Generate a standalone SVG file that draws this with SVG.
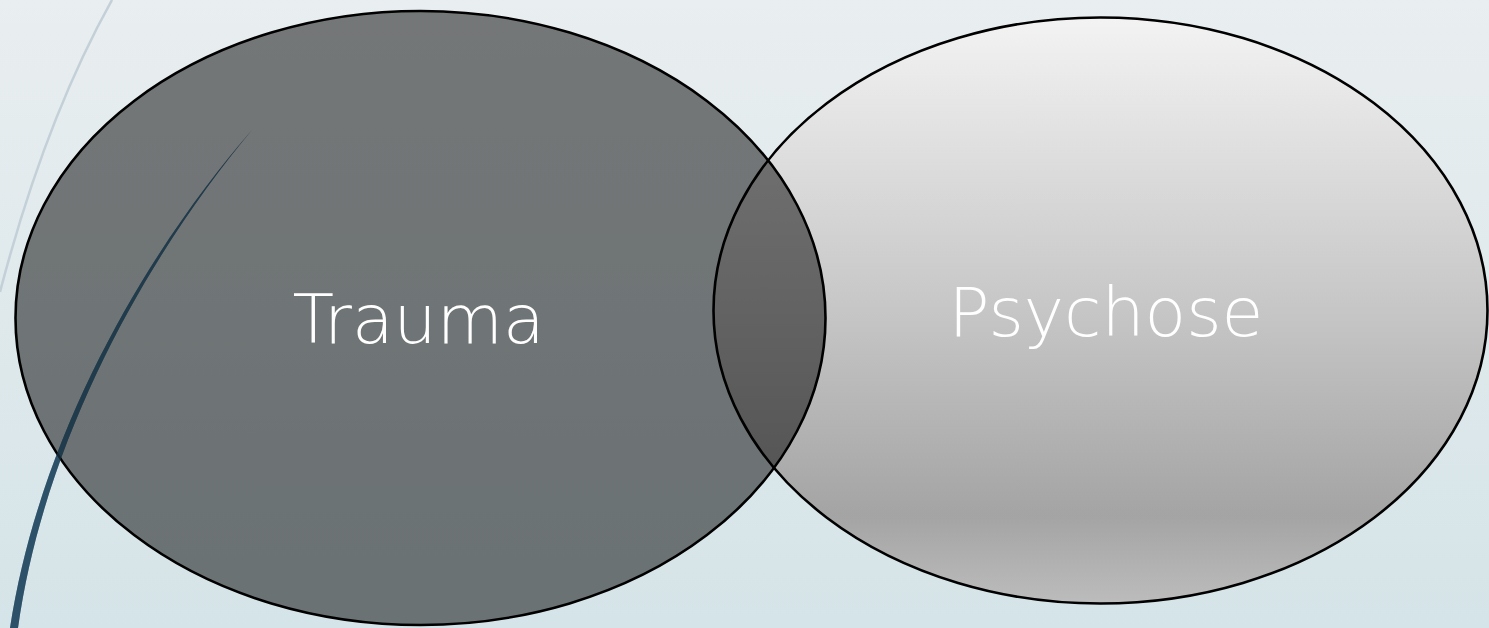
<svg xmlns="http://www.w3.org/2000/svg" width="1489" height="628" viewBox="0 0 1489 628">
<defs>
<linearGradient id="bg" x1="0" y1="0" x2="0" y2="1">
<stop offset="0" stop-color="#e9eef0"/>
<stop offset="1" stop-color="#d5e4e8"/>
</linearGradient>
<linearGradient id="gR" x1="0" y1="0" x2="0" y2="1">
<stop offset="0" stop-color="#f3f3f3"/>
<stop offset="0.5" stop-color="#c6c6c6"/>
<stop offset="0.85" stop-color="#a4a4a4"/>
<stop offset="1" stop-color="#bcbcbc"/>
</linearGradient>
<path id="wisp" d="M252,130 C160,235 42,420 10,628 L18,628 C47,421 163,236 252,130 Z"/>
<style>
.ell{stroke:#000;stroke-width:2.6}
.lbl{font-family:"DejaVu Sans","Liberation Sans",sans-serif;font-weight:200;font-size:68px;fill:#fff;text-anchor:middle}
</style>
</defs>
<rect width="1489" height="628" fill="url(#bg)"/>
<g id="decor-back">
<path d="M112,0 Q45,120 0,292" fill="none" stroke="#c3d0d7" stroke-width="2.5"/>
<use href="#wisp" fill="#2c5168"/>
</g>
<g id="node-psychose">
<ellipse class="ell" cx="1100.5" cy="310.5" rx="387" ry="293" fill="url(#gR)"/>
<text class="lbl" x="1106" y="336">Psychose</text>
</g>
<g id="node-trauma">
<ellipse class="ell" cx="420.5" cy="318" rx="405" ry="307" fill="#000" fill-opacity="0.5"/>
<text class="lbl" x="418.5" y="343">Trauma</text>
</g>
<g id="decor-front">
<use href="#wisp" fill="#2c5168" fill-opacity="0.45"/>
</g>
<g id="connectors"/>
</svg>
